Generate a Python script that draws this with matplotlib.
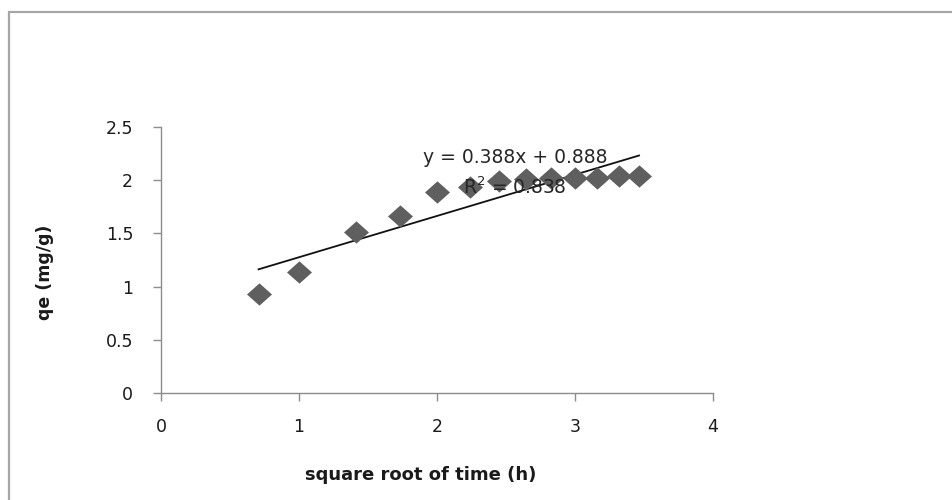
import numpy as np
import matplotlib
matplotlib.use('Agg')
import matplotlib.pyplot as plt
from matplotlib.patches import Rectangle

# Data kinetika difusi intrapartikel
sqrt_time = [0.707, 1.0, 1.414, 1.732, 2.0, 2.236, 2.449, 2.646, 2.828, 3.0, 3.162, 3.317, 3.464]
qe = [0.93, 1.14, 1.51, 1.66, 1.89, 1.94, 1.99, 2.01, 2.02, 2.02, 2.02, 2.04, 2.04]

# Garis tren linear
slope = 0.388
intercept = 0.888
r2 = 0.838

plt.rcParams['font.family'] = ['DejaVu Sans']

fig = plt.figure(figsize=(9.53, 5.0), dpi=100)
fig.patch.set_facecolor('white')

# Bingkai area grafik
fig.patches.append(Rectangle((9 / 953, -0.1), 1.2, 1 - 12 / 500 + 0.1,
                             transform=fig.transFigure, fill=False,
                             edgecolor='#a6a6a6', linewidth=1.6))

ax = fig.add_axes([161 / 953, 1 - 393 / 500, (713 - 161) / 953, (393 - 127) / 500])

# Penanda belah ketupat yang sedikit lebih lebar
wide_diamond = [(-1.12, 0), (0, 1), (1.12, 0), (0, -1), (-1.12, 0)]
ax.plot(sqrt_time, qe, linestyle='none', marker=wide_diamond, markersize=18,
        markeredgewidth=0, color='#5f5f5f', clip_on=False, zorder=3)

xt = np.array([sqrt_time[0], sqrt_time[-1]])
ax.plot(xt, slope * xt + intercept, color='#111111', linewidth=1.3, zorder=2)

ax.text(2.565, 2.21, f'y = {slope}x + {intercept}', ha='center', va='center',
        fontsize=13.5, color='#262626', zorder=4)
ax.text(2.565, 1.93, f'R$^2$ = {r2}', ha='center', va='center',
        fontsize=13.5, color='#262626', zorder=4)

ax.set_xlim(0, 4)
ax.set_ylim(0, 2.5)
ax.set_xticks([0, 1, 2, 3, 4])
ax.set_yticks([0, 0.5, 1, 1.5, 2, 2.5])
ax.set_xticklabels(['0', '1', '2', '3', '4'])
ax.set_yticklabels(['0', '0.5', '1', '1.5', '2', '2.5'])

for side in ['top', 'right']:
    ax.spines[side].set_visible(False)
for side in ['left', 'bottom']:
    ax.spines[side].set_color('#8c8c8c')
    ax.spines[side].set_linewidth(1.0)

ax.tick_params(axis='both', direction='out', length=6, width=1.0,
               color='#8c8c8c', labelsize=12.5, labelcolor='#1a1a1a')
ax.tick_params(axis='x', pad=12)
ax.tick_params(axis='y', pad=14)

ax.set_xlabel('square root of time (h)', fontsize=13, fontweight='bold',
              color='#1a1a1a', va='center')
ax.xaxis.set_label_coords((421 - 161) / 552, (393 - 475) / 266)
ax.set_ylabel('qe (mg/g)', fontsize=12.5, fontweight='bold',
              color='#1a1a1a', va='center', ha='center')
ax.yaxis.set_label_coords((45 - 161) / 552, (393 - 272) / 266)

plt.savefig('out.png', dpi=100)
